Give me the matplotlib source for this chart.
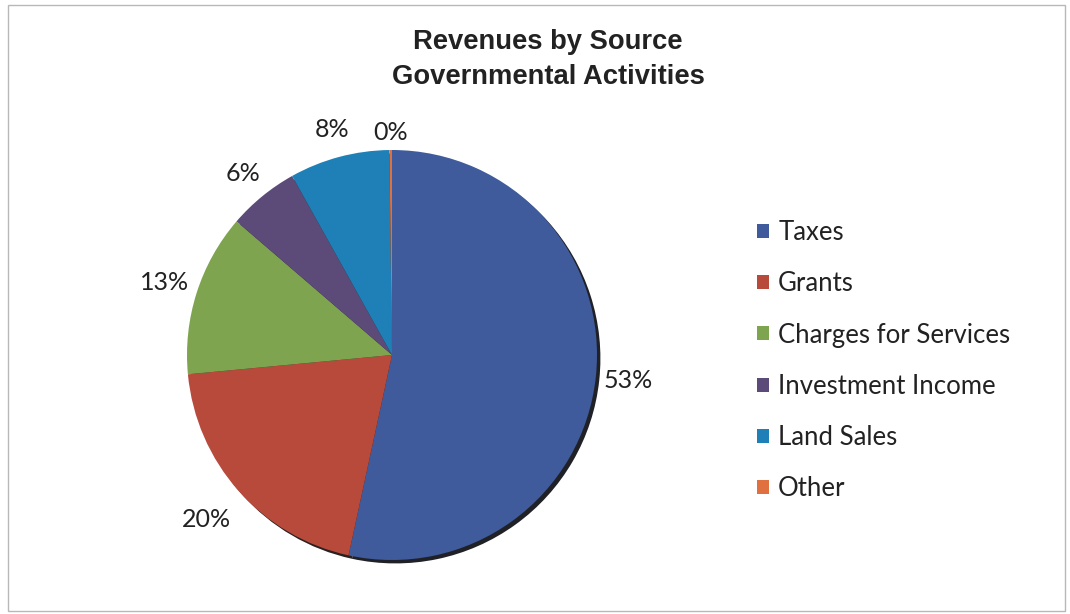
import numpy as np
import matplotlib.pyplot as plt
from matplotlib.patches import Rectangle

sources = ["Taxes", "Grants", "Charges for Services", "Investment Income",
           "Land Sales", "Other"]
shares = [53.4, 20.1, 12.8, 5.6, 7.9, 0.2]
colors = ["#3f5b9b", "#b84a3c", "#7fa450", "#5c4a78", "#1f80b8", "#e0703f"]
# radial distance of each percentage label (in pie radii)
label_dist = [1.16, 1.21, 1.166, 1.146, 1.137, 1.083]

W, H = 1070, 614
fig = plt.figure(figsize=(W / 100, H / 100), dpi=100)

# pie axes: centre (392, 355) px, radius 205 px
cx, cy, r = 392, 355, 205
ax = fig.add_axes([(cx - r) / W, (H - cy - r) / H, 2 * r / W, 2 * r / H])

wedges, _, pcts = ax.pie(
    shares, colors=colors, startangle=90, counterclock=False,
    autopct="%.0f%%", radius=1,
    wedgeprops=dict(linewidth=0),
    shadow=dict(ox=0.012, oy=-0.012, shade=0.9, alpha=0.9),
    textprops=dict(family="Lato", fontsize=18, color="#222222"),
)
for w, t, d in zip(wedges, pcts, label_dist):
    mid = np.deg2rad((w.theta1 + w.theta2) / 2)
    t.set_position((d * np.cos(mid), d * np.sin(mid)))
    t.set_ha("center")
    t.set_va("center")

ax.set_xlim(-1, 1)
ax.set_ylim(-1, 1)
ax.set_aspect("equal")
ax.axis("off")

for y, line in [(42, "Revenues by Source"), (77, "Governmental Activities")]:
    fig.text(548 / W, 1 - y / H, line, ha="center", va="center",
             family="Liberation Sans", fontweight="bold", fontsize=19.7,
             color="#222222")

fig.legend(wedges, sources, loc="upper left", bbox_to_anchor=(734 / W, 1 - 197 / H),
           frameon=False, prop=dict(family="Lato", size=18.5),
           handlelength=0.47, handleheight=0.47, handletextpad=0.35,
           labelspacing=1.02, labelcolor="#222222")

# light frame round the chart area
fig.patches.append(Rectangle((8 / W, 3 / H), 1057 / W, 606 / H,
                             transform=fig.transFigure, fill=False,
                             edgecolor="#b8b8b8", linewidth=1))

fig.savefig("out.png", dpi=100)
